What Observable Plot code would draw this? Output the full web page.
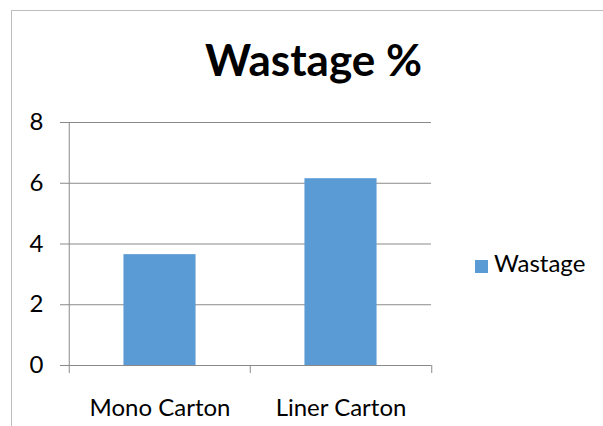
<!DOCTYPE html>
<html>
<head>
<meta charset="utf-8">
<script src="https://cdn.jsdelivr.net/npm/d3@7"></script>
<script src="https://cdn.jsdelivr.net/npm/@observablehq/plot@0.6"></script>
<style>
  html, body { margin: 0; padding: 0; background: #fff; }
  #wrap { position: relative; width: 603px; height: 426px; overflow: hidden; font-family: Lato, "Open Sans", sans-serif; color: #000; }
  #border { position: absolute; left: 11px; top: 10px; width: 600px; height: 430px; border-left: 1px solid #bdbdbd; border-top: 1px solid #bdbdbd; }
  #title { position: absolute; left: 0; width: 627px; top: 37px; text-align: center; font-weight: bold; font-size: 44px; line-height: 44px; white-space: nowrap; }
  #legend { position: absolute; left: 475px; top: 249px; font-size: 24px; line-height: 28px; white-space: nowrap; }
  #legend .sw { display: inline-block; width: 13px; height: 13px; margin-right: 6px; vertical-align: -1px; }
  #chart { position: absolute; left: 0; top: 0; }
</style>
</head>
<body>
<div id="wrap">
  <div id="border"></div>
  <div id="chart"></div>
  <div id="title"></div>
  <div id="legend"></div>
</div>
<script>
const categories = ["Mono Carton", "Liner Carton"];
const wastage = [3.65, 6.15];
const yTicks = [0, 2, 4, 6, 8];
const seriesName = "Wastage";
const titleText = "Wastage %";
const barColor = "#5B9BD5";

const data = categories.map((c, i) => ({category: c, value: wastage[i]}));

const W = 603, H = 426, ml = 68, mr = 172, mt = 122, mb = 61;
const step = (W - ml - mr) / categories.length;
const gray = "#8a8a8a";

const plot = Plot.plot({
  width: W,
  height: H,
  marginLeft: ml,
  marginRight: mr,
  marginTop: mt,
  marginBottom: mb,
  style: {fontFamily: "Lato, 'Open Sans', sans-serif", fontSize: "24px", color: "#000", background: "transparent", overflow: "visible"},
  x: {domain: categories, padding: 0, label: null},
  y: {domain: [0, 8], label: null},
  marks: [
    Plot.gridY(yTicks, {stroke: gray, strokeOpacity: 1, strokeWidth: 1}),
    Plot.barY(data, {x: "category", y: "value", fill: barColor, insetLeft: step * 0.3, insetRight: step * 0.3}),
    Plot.ruleY([0], {stroke: gray, strokeWidth: 1}),
    Plot.ruleX([categories[0]], {x: d => d, dx: -step / 2, y1: 0, y2: 8, stroke: gray}),
    Plot.ruleX(categories, {x: d => d, dx: -step / 2, y1: 0, y2: 0, insetBottom: -8, stroke: gray}),
    Plot.ruleX([categories[categories.length - 1]], {x: d => d, dx: step / 2, y1: 0, y2: 0, insetBottom: -8, stroke: gray}),
    Plot.axisY(yTicks, {tickSize: 8, tickPadding: 17, stroke: gray, fill: "#000", fontSize: 24, label: null}),
    Plot.axisX({tickSize: 0, tickPadding: 33, fill: "#000", fontSize: 24, label: null})
  ]
});
document.getElementById("chart").appendChild(plot);

document.getElementById("title").textContent = titleText;
const legend = document.getElementById("legend");
const sw = document.createElement("span");
sw.className = "sw";
sw.style.background = barColor;
legend.appendChild(sw);
legend.appendChild(document.createTextNode(seriesName));
</script>
</body>
</html>
